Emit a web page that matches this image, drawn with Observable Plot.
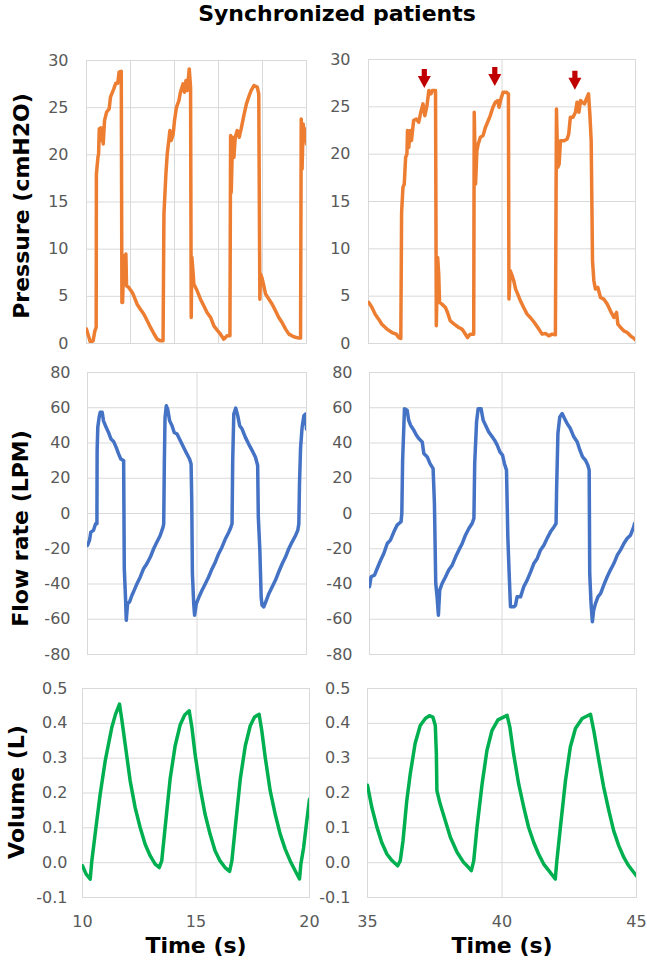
<!DOCTYPE html>
<html><head><meta charset="utf-8">
<script src="https://cdn.jsdelivr.net/npm/d3@7"></script>
<script src="https://cdn.jsdelivr.net/npm/@observablehq/plot@0.6"></script>
<style>
body{margin:0;background:#fff;overflow:hidden}
#root{position:relative;width:647px;height:968px;font-family:"DejaVu Sans",sans-serif;background:#fff}
.title{position:absolute;left:27px;width:620px;top:1px;text-align:center;font-weight:bold;font-size:22px;line-height:26px;color:#000}
</style></head><body>
<div id="root"><div class="title">Synchronized patients</div></div>
<script>
// ---------- data ----------
const pressureLeftT = [10.00,10.18,10.30,10.38,10.44,10.45,10.52,10.55,10.58,10.64,10.67,10.73,10.76,10.82,10.91,11.03,11.09,11.24,11.33,11.42,11.48,11.58,11.61,11.64,11.70,11.74,11.79,11.82,11.92,12.08,12.15,12.30,12.45,12.61,12.76,12.91,13.06,13.21,13.36,13.48,13.52,13.55,13.61,13.67,13.74,13.79,13.85,13.94,14.00,14.09,14.20,14.27,14.39,14.45,14.52,14.58,14.67,14.73,14.76,14.79,14.85,14.88,15.03,15.18,15.33,15.48,15.64,15.79,15.94,16.09,16.24,16.39,16.52,16.55,16.58,16.64,16.70,16.76,16.85,16.94,17.03,17.15,17.27,17.38,17.48,17.61,17.76,17.83,17.88,17.91,17.97,18.06,18.14,18.29,18.44,18.59,18.74,18.89,19.05,19.20,19.42,19.65,19.73,19.76,19.80,19.85,19.91,19.97,20.00];
const pressureLeftV = [1.52,0.11,0.28,1.34,1.70,17.97,19.74,20.09,22.75,22.85,21.51,22.85,21.15,23.63,24.51,24.87,26.11,26.99,27.59,27.59,28.76,28.86,4.35,4.35,9.30,7.36,9.48,6.12,5.94,5.41,5.06,4.17,3.64,3.11,2.41,1.70,1.06,0.46,0.28,0.28,13.72,15.14,17.97,20.09,21.51,22.57,21.51,22.21,23.63,25.04,25.75,26.64,27.52,26.64,27.87,26.81,29.11,27.17,2.76,9.13,7.36,6.30,5.59,4.70,4.00,3.29,2.76,1.87,1.41,0.99,0.46,0.81,0.81,22.04,16.02,21.86,19.74,21.86,22.57,21.86,22.75,24.16,25.40,26.18,26.81,27.34,27.17,26.46,4.70,7.36,7.00,6.12,5.24,4.70,4.17,3.47,2.76,2.23,1.52,0.99,0.71,0.57,0.57,23.81,18.50,23.28,21.51,22.75,21.15];

const pressureRightT = [35.01,35.13,35.25,35.38,35.50,35.69,35.88,36.04,36.13,36.21,36.24,36.29,36.34,36.39,36.44,36.46,36.51,36.56,36.61,36.69,36.79,36.88,36.96,37.04,37.11,37.19,37.26,37.34,37.39,37.46,37.51,37.54,37.59,37.63,37.66,37.75,37.88,37.96,38.06,38.21,38.38,38.50,38.59,38.71,38.81,38.94,38.96,39.01,39.06,39.11,39.19,39.29,39.38,39.46,39.56,39.66,39.75,39.84,39.89,39.96,40.04,40.16,40.24,40.26,40.31,40.36,40.44,40.51,40.59,40.69,40.81,40.94,41.06,41.21,41.38,41.50,41.63,41.75,41.88,42.00,42.04,42.09,42.14,42.19,42.26,42.34,42.44,42.50,42.56,42.66,42.75,42.81,42.88,42.94,43.01,43.09,43.16,43.24,43.29,43.34,43.39,43.44,43.50,43.59,43.69,43.81,43.94,44.06,44.19,44.29,44.34,44.44,44.56,44.69,44.81,44.94,45.00];
const pressureRightV = [4.34,3.81,3.10,2.57,2.04,1.52,1.16,0.99,0.63,0.53,13.85,16.50,16.85,19.67,20.02,22.49,20.73,22.49,21.43,23.55,23.72,23.37,24.43,25.31,24.07,25.13,26.72,26.37,26.72,26.72,26.72,1.87,9.09,7.33,4.34,4.16,3.81,3.28,2.40,2.04,1.69,1.52,1.16,0.63,0.99,0.99,24.43,16.85,20.37,21.08,21.78,21.96,22.84,23.37,24.07,24.96,25.48,25.66,24.96,25.84,26.54,26.54,26.37,4.69,7.68,7.33,6.63,5.75,5.22,4.51,3.81,3.10,2.75,2.22,1.52,0.99,1.06,0.81,0.99,0.92,24.78,18.61,18.96,21.43,21.43,21.43,21.61,22.14,23.90,23.90,24.43,25.48,24.43,25.66,25.48,25.31,25.84,26.37,24.25,21.43,8.74,6.63,5.75,5.92,4.86,4.69,4.16,3.45,2.75,3.28,2.04,1.69,1.34,1.16,0.81,0.53,0.39];

const flowLeftT = [10.00,10.09,10.15,10.27,10.37,10.43,10.44,10.47,10.53,10.58,10.67,10.73,10.85,10.96,11.07,11.19,11.31,11.42,11.52,11.65,11.68,11.74,11.77,11.83,11.92,12.03,12.13,12.26,12.41,12.56,12.71,12.87,13.02,13.17,13.32,13.45,13.48,13.51,13.54,13.60,13.66,13.75,13.86,13.96,14.09,14.24,14.39,14.54,14.66,14.73,14.76,14.79,14.85,14.89,14.97,15.09,15.23,15.38,15.53,15.69,15.84,15.99,16.14,16.30,16.45,16.52,16.60,16.63,16.68,16.77,16.86,16.95,17.06,17.21,17.36,17.52,17.67,17.77,17.80,17.87,17.93,17.97,18.05,18.17,18.28,18.43,18.58,18.73,18.89,19.04,19.19,19.34,19.50,19.60,19.65,19.68,19.73,19.80,19.88,19.95,20.00];
const flowLeftV = [-18.1,-15.3,-10.6,-9.6,-5.8,-5.8,35.7,48.9,54.5,57.4,57.4,52.6,48.9,46.0,42.3,40.9,37.5,33.8,30.9,30.0,-31.3,-49.2,-60.6,-51.1,-50.2,-46.4,-43.6,-39.8,-36.0,-31.3,-28.5,-24.7,-20.0,-16.2,-12.5,-7.7,-5.8,30.0,54.5,61.1,59.2,52.6,49.8,46.0,45.1,41.3,37.5,33.8,30.9,28.1,7.4,-34.2,-51.1,-57.7,-51.1,-47.4,-43.6,-39.8,-36.0,-31.3,-27.5,-22.8,-19.1,-14.3,-10.6,-8.7,-5.8,30.0,56.4,59.8,55.5,49.8,47.9,43.2,39.4,35.7,31.9,27.2,-2.1,-20.9,-47.4,-52.1,-53.0,-49.2,-45.5,-41.7,-37.9,-33.2,-28.5,-24.7,-20.0,-16.2,-12.5,-9.6,-5.8,16.8,37.5,48.9,55.5,56.4,47.9];

const flowRightT = [35.00,35.06,35.19,35.29,35.42,35.54,35.67,35.79,35.92,36.04,36.19,36.22,36.25,36.32,36.42,36.48,36.55,36.67,36.77,36.86,36.99,37.05,37.18,37.28,37.40,37.45,37.50,37.55,37.60,37.65,37.74,37.87,37.99,38.12,38.25,38.37,38.50,38.62,38.75,38.87,38.94,38.97,39.04,39.10,39.21,39.29,39.38,39.50,39.63,39.72,39.82,39.92,40.02,40.09,40.17,40.22,40.27,40.32,40.45,40.51,40.57,40.70,40.82,40.95,41.08,41.20,41.33,41.45,41.58,41.70,41.83,41.96,42.04,42.06,42.11,42.18,42.27,42.36,42.46,42.58,42.71,42.84,42.94,43.04,43.15,43.24,43.29,43.31,43.36,43.41,43.46,43.53,43.62,43.72,43.84,43.97,44.09,44.22,44.35,44.47,44.60,44.72,44.85,44.97,45.00];
const flowRightV = [-41.6,-35.9,-35.0,-31.2,-26.5,-22.7,-17.0,-15.1,-10.4,-6.6,-4.7,0,30.2,59.5,58.6,52.9,50.1,47.3,44.4,42.5,40.6,34.0,32.1,28.4,25.5,5.7,-39.7,-47.3,-57.7,-43.5,-39.7,-35.9,-32.1,-29.3,-24.6,-20.8,-17.0,-12.3,-8.5,-5.7,-2.8,28.4,52.0,59.5,59.5,52.9,50.1,46.3,43.5,41.6,38.8,35.0,33.1,28.4,24.6,-13.2,-34.0,-52.9,-52.9,-52.0,-47.3,-47.3,-41.6,-37.8,-33.1,-28.4,-25.5,-20.8,-18.0,-14.2,-10.4,-7.6,-5.7,13.2,45.4,54.8,56.7,53.9,51.0,48.2,43.5,40.6,35.9,32.1,30.2,27.4,24.6,-34.0,-51.0,-61.4,-54.8,-51.0,-47.3,-45.4,-40.6,-35.9,-32.1,-28.4,-23.6,-20.8,-17.0,-14.2,-12.3,-7.6,-5.7];

const volumeLeftT = [10.00,10.16,10.34,10.41,10.60,10.78,11.00,11.29,11.45,11.63,11.73,11.88,12.10,12.32,12.54,12.76,12.98,13.20,13.38,13.49,13.64,13.86,14.08,14.30,14.50,14.70,14.82,14.96,15.18,15.40,15.62,15.84,16.06,16.28,16.48,16.58,16.73,16.95,17.17,17.39,17.58,17.78,17.90,18.05,18.27,18.49,18.71,18.93,19.15,19.37,19.56,19.62,19.74,19.88,20.00];
const volumeLeftV = [-0.009,-0.033,-0.047,0.005,0.105,0.197,0.292,0.388,0.425,0.455,0.412,0.340,0.235,0.158,0.101,0.053,0.020,-0.004,-0.014,0.005,0.101,0.240,0.335,0.395,0.424,0.436,0.388,0.311,0.216,0.139,0.082,0.034,0.005,-0.014,-0.025,0.005,0.101,0.240,0.335,0.393,0.418,0.426,0.378,0.302,0.206,0.139,0.082,0.039,0.005,-0.023,-0.047,-0.004,0.043,0.120,0.182];

const volumeRightT = [35.00,35.16,35.35,35.53,35.72,35.91,36.12,36.22,36.32,36.46,36.59,36.77,36.96,37.15,37.30,37.43,37.52,37.56,37.58,37.70,37.89,38.08,38.33,38.57,38.76,38.86,38.95,39.07,39.26,39.44,39.63,39.85,40.19,40.29,40.43,40.62,40.81,40.99,41.18,41.36,41.55,41.74,41.98,42.04,42.17,42.36,42.54,42.73,42.98,43.29,43.41,43.60,43.78,43.97,44.15,44.34,44.53,44.71,45.00];
const volumeRightV = [0.222,0.159,0.102,0.058,0.025,0.006,-0.009,0.006,0.063,0.178,0.255,0.342,0.394,0.414,0.422,0.418,0.394,0.313,0.207,0.169,0.121,0.073,0.030,0.001,-0.014,-0.023,0.006,0.101,0.226,0.322,0.380,0.410,0.423,0.390,0.313,0.226,0.159,0.101,0.058,0.025,-0.004,-0.023,-0.047,0.006,0.101,0.236,0.332,0.385,0.414,0.426,0.380,0.294,0.217,0.150,0.092,0.049,0.015,-0.009,-0.038];

// arrow markers (time, pressure at the arrow tip)
const arrowT = [37.09, 39.73, 42.73];
const arrowV = [27.0, 27.2, 26.8];

// ticks and labels
const pressureTicks = [0, 5, 10, 15, 20, 25, 30];
const pressureLabels = ["0", "5", "10", "15", "20", "25", "30"];
const flowTicks = [-80, -60, -40, -20, 0, 20, 40, 60, 80];
const flowLabels = ["-80", "-60", "-40", "-20", "0", "20", "40", "60", "80"];
const volumeTicks = [-0.1, 0, 0.1, 0.2, 0.3, 0.4, 0.5];
const volumeLabels = ["-0.1", "0.0", "0.1", "0.2", "0.3", "0.4", "0.5"];
const timeTicksLeft = [10, 15, 20];
const timeLabelsLeft = ["10", "15", "20"];
const timeTicksRight = [35, 40, 45];
const timeLabelsRight = ["35", "40", "45"];
const pressureLeftGridX = [12, 14, 16, 18];

const yTitles = ["Pressure (cmH2O)", "Flow rate (LPM)", "Volume (L)"];
const xTitle = "Time (s)";

// ---------- drawing ----------
const ORANGE = "#ED7D31", BLUE = "#4472C4", GREEN = "#00B050", GRID = "#d9d9d9", TICK = "#595959";
const arrowShape = {
  draw(ctx) {
    ctx.moveTo(0, 0); ctx.lineTo(-6.5, -12); ctx.lineTo(-2.6, -12); ctx.lineTo(-2.6, -19);
    ctx.lineTo(2.6, -19); ctx.lineTo(2.6, -12); ctx.lineTo(6.5, -12); ctx.closePath();
  }
};

function panel(o) {
  const marks = [
    Plot.gridY(o.yTicks, {stroke: GRID, strokeOpacity: 1, strokeWidth: 1}),
    Plot.gridX(o.xGrid, {stroke: GRID, strokeOpacity: 1, strokeWidth: 1}),
    Plot.frame({stroke: GRID, strokeWidth: 1}),
    Plot.axisY(o.yTicks, {tickSize: 0, tickPadding: o.pad, color: TICK, fontSize: 16, label: null,
      tickFormat: d => o.yLabels[o.yTicks.indexOf(d)]}),
    Plot.line(o.v, {x: o.t, y: o.v, stroke: o.color, strokeWidth: 3.5, strokeLinejoin: "round", strokeLinecap: "round", clip: true})
  ];
  if (o.xTicks) {
    marks.push(Plot.axisX(o.xTicks, {tickSize: 0, tickPadding: 18, color: TICK, fontSize: 16, label: null,
      tickFormat: d => o.xLabels[o.xTicks.indexOf(d)]}));
    marks.push(Plot.text([xTitle], {text: d => d, frameAnchor: "bottom", textAnchor: "middle", dy: 55, fontSize: 22, fontWeight: "bold", fill: "#000"}));
  }
  if (o.yTitle) {
    marks.push(Plot.text([o.yTitle], {text: d => d, frameAnchor: "left", textAnchor: "middle", rotate: -90, dx: o.tdx, dy: o.tdy, fontSize: 22, fontWeight: "bold", fill: "#000"}));
  }
  if (o.extra) marks.push(...o.extra);
  const svg = Plot.plot({
    width: o.width, height: o.height,
    marginLeft: o.ml, marginRight: o.width - o.fr, marginTop: o.mt, marginBottom: o.height - o.fb,
    x: {domain: o.xDomain, axis: o.xTicks ? undefined : null},
    y: {domain: o.yDomain},
    style: {fontFamily: "DejaVu Sans", fontSize: "16px", background: "transparent", overflow: "visible"},
    marks
  });
  svg.style.position = "absolute";
  svg.style.left = o.left + "px";
  svg.style.top = o.top + "px";
  document.getElementById("root").appendChild(svg);
}

// frame coordinates: ml/fr = frame left/right inside svg, mt/fb = frame top/bottom inside svg
panel({left: 0, top: 40, width: 316, height: 315, ml: 86, fr: 306, mt: 20, fb: 303,
  xDomain: [10, 20], yDomain: [0, 30], yTicks: pressureTicks, yLabels: pressureLabels, pad: 18,
  xGrid: pressureLeftGridX, t: pressureLeftT, v: pressureLeftV, color: ORANGE,
  yTitle: yTitles[0], tdx: -65, tdy: 4});
panel({left: 320, top: 40, width: 327, height: 315, ml: 48, fr: 315, mt: 19, fb: 303,
  xDomain: [35, 45], yDomain: [0, 30], yTicks: pressureTicks, yLabels: pressureLabels, pad: 18,
  xGrid: [40], t: pressureRightT, v: pressureRightV, color: ORANGE,
  extra: [Plot.dot(arrowT, {x: arrowT, y: arrowV, symbol: arrowShape, r: 5, fill: "#C00000", stroke: "none"})]});
panel({left: 0, top: 357, width: 316, height: 309, ml: 87, fr: 306, mt: 15, fb: 297,
  xDomain: [10, 20], yDomain: [-80, 80], yTicks: flowTicks, yLabels: flowLabels, pad: 17,
  xGrid: [15], t: flowLeftT, v: flowLeftV, color: BLUE,
  yTitle: yTitles[1], tdx: -67, tdy: 15});
panel({left: 320, top: 357, width: 327, height: 309, ml: 49, fr: 314, mt: 15, fb: 297,
  xDomain: [35, 45], yDomain: [-80, 80], yTicks: flowTicks, yLabels: flowLabels, pad: 17,
  xGrid: [40], t: flowRightT, v: flowRightV, color: BLUE});
panel({left: 0, top: 670, width: 319, height: 298, ml: 82, fr: 309, mt: 18, fb: 227,
  xDomain: [10, 20], yDomain: [-0.1, 0.5], yTicks: volumeTicks, yLabels: volumeLabels, pad: 15,
  xGrid: [15], t: volumeLeftT, v: volumeLeftV, color: GREEN,
  xTicks: timeTicksLeft, xLabels: timeLabelsLeft,
  yTitle: yTitles[2], tdx: -66, tdy: -1});
panel({left: 320, top: 670, width: 327, height: 298, ml: 47, fr: 316, mt: 18, fb: 227,
  xDomain: [35, 45], yDomain: [-0.1, 0.5], yTicks: volumeTicks, yLabels: volumeLabels, pad: 17,
  xGrid: [40], t: volumeRightT, v: volumeRightV, color: GREEN,
  xTicks: timeTicksRight, xLabels: timeLabelsRight});
</script>
</body></html>
